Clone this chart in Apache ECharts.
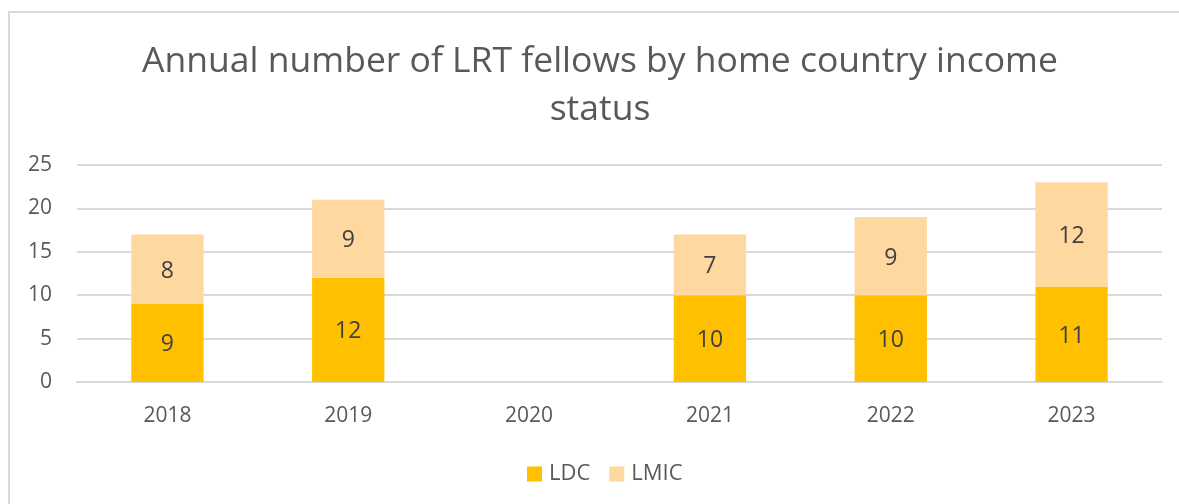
<!DOCTYPE html>
<html>
<head>
<meta charset="utf-8">
<script src="https://cdn.jsdelivr.net/npm/echarts@6/dist/echarts.min.js"></script>
<style>
  html, body { margin: 0; padding: 0; background: #fff; }
  #chart { width: 1179px; height: 504px; }
</style>
</head>
<body>
<div id="chart"></div>
<script>
// data
const years = ['2018', '2019', '2020', '2021', '2022', '2023'];
const ldc = [9, 12, null, 10, 10, 11];
const lmic = [8, 9, null, 7, 9, 12];
const yTicks = [0, 5, 10, 15, 20, 25];

const font = '"Open Sans", "Noto Sans", sans-serif';

const mkSeries = (name, data, color) => ({
  name: name,
  type: 'bar',
  stack: 'total',
  data: data,
  barWidth: '40%',
  itemStyle: { color: color },
  label: {
    show: true,
    position: 'inside',
    offset: [0, 2],
    color: '#404040',
    fontSize: 23,
    fontFamily: font
  }
});

const chart = echarts.init(document.getElementById('chart'));
chart.setOption({
  animation: false,
  title: {
    text: 'Annual number of LRT fellows by home country income\nstatus',
    left: 595,
    textAlign: 'center',
    top: 33,
    textStyle: {
      color: '#595959',
      fontSize: 35.5,
      fontWeight: 'normal',
      fontFamily: font,
      lineHeight: 48
    }
  },
  // frame round the chart area
  graphic: [{
    type: 'rect',
    shape: { x: 9, y: 12, width: 1300, height: 600 },
    style: { fill: 'none', stroke: '#d9d9d9', lineWidth: 2 },
    silent: true
  }],
  legend: {
    data: ['LDC', 'LMIC'],
    bottom: 14,
    left: 522,
    itemWidth: 15,
    itemHeight: 15,
    itemGap: 19,
    icon: 'rect',
    textStyle: { color: '#595959', fontSize: 22, fontFamily: font, padding: [0, 0, 0, 2] }
  },
  grid: { left: 77, right: 17, top: 165, bottom: 122, containLabel: false },
  xAxis: {
    type: 'category',
    data: years,
    axisLine: { lineStyle: { color: '#d9d9d9', width: 2 } },
    axisTick: { show: false },
    axisLabel: { color: '#595959', fontSize: 21, fontFamily: font, margin: 24 }
  },
  yAxis: {
    type: 'value',
    min: yTicks[0],
    max: yTicks[yTicks.length - 1],
    interval: 5,
    axisLine: { show: false },
    axisTick: { show: false },
    axisLabel: { color: '#595959', fontSize: 21, fontFamily: font, margin: 25 },
    splitLine: { lineStyle: { color: '#d9d9d9', width: 2 } }
  },
  series: [
    mkSeries('LDC', ldc, '#FFC000'),
    mkSeries('LMIC', lmic, '#FFD8A0')
  ]
});
</script>
</body>
</html>
